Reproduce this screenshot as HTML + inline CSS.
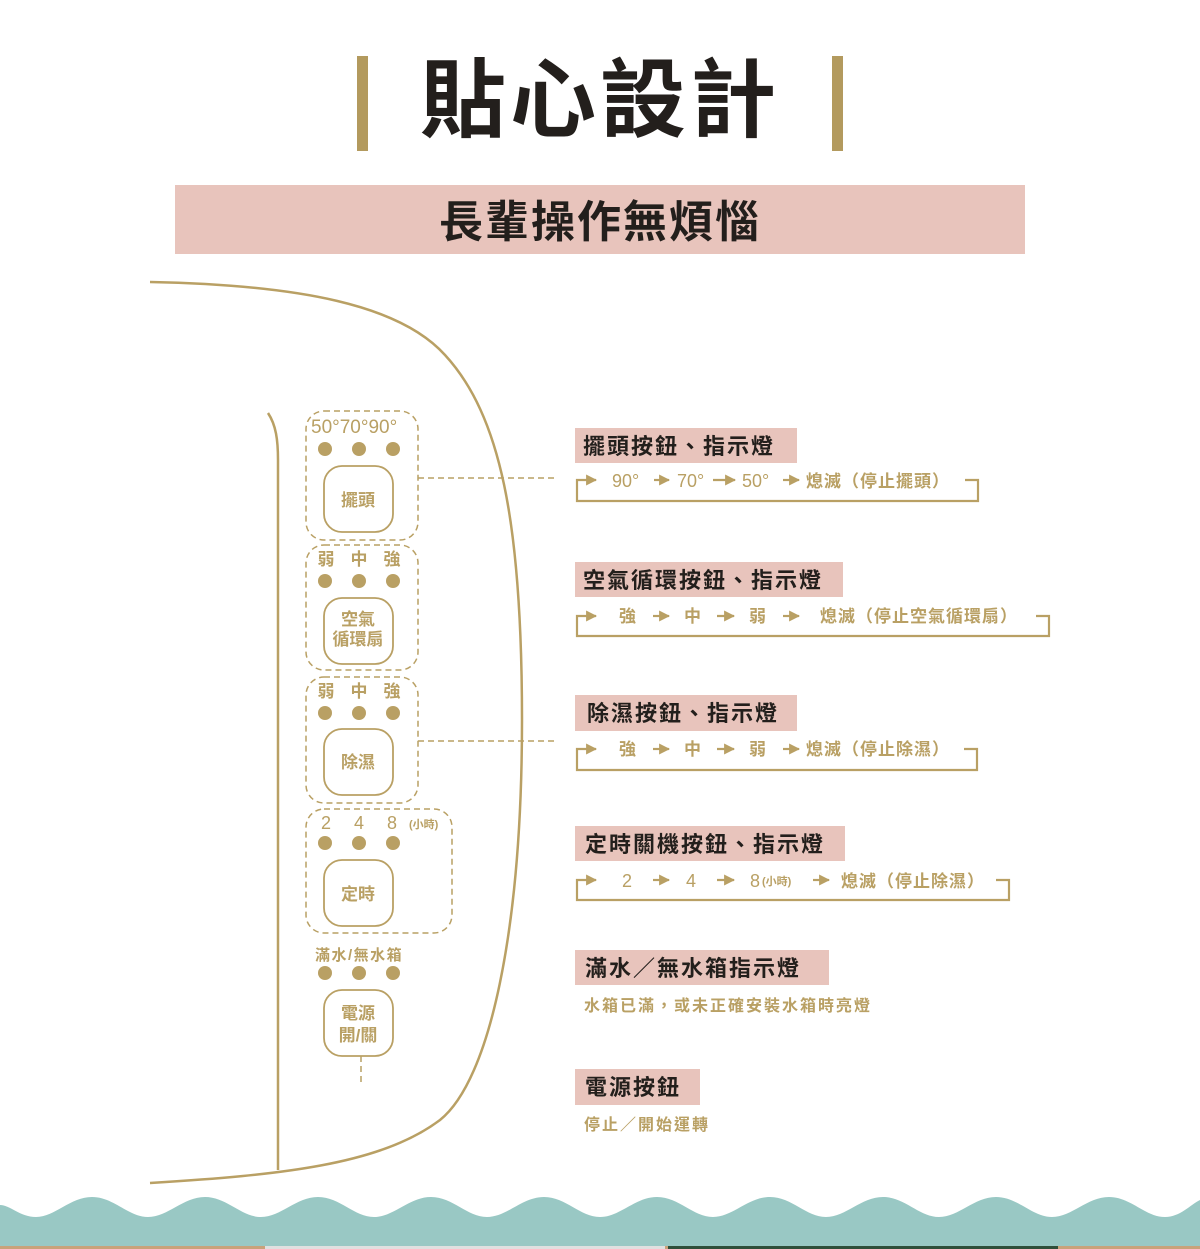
<!DOCTYPE html>
<html><head><meta charset="utf-8"><style>
html,body{margin:0;padding:0;background:#fff;}
svg{display:block;}
text{font-family:"Liberation Sans","Noto Sans CJK TC",sans-serif;}
.g{fill:#b9a064;}
.gb{fill:#b9a064;font-weight:bold;}
.h{fill:#231f1c;font-weight:bold;font-size:22px;letter-spacing:2px;}
</style></head><body>
<svg width="1200" height="1249" viewBox="0 0 1200 1249" xmlns="http://www.w3.org/2000/svg">
<defs><marker id="ar" viewBox="0 0 10 10" refX="9" refY="5" markerWidth="5" markerHeight="5" orient="auto"><path d="M0,0 L10,5 L0,10 z" fill="#b9a064"/></marker></defs>
<rect x="357" y="56" width="11" height="95" fill="#b39a5e"/>
<rect x="832" y="56" width="11" height="95" fill="#b39a5e"/>
<text x="600" y="130" text-anchor="middle" font-size="86" font-weight="bold" fill="#231f1c" letter-spacing="4">貼心設計</text>
<rect x="175" y="185" width="850" height="69" fill="#e8c4bc"/>
<text x="600" y="237" text-anchor="middle" font-size="44" font-weight="bold" fill="#231f1c" letter-spacing="2">長輩操作無煩惱</text>

<g fill="none" stroke="#b9a064">
<path d="M150,282 C300,285 400,305 445,355 C500,415 522,520 522,720 C522,930 490,1080 440,1120 C380,1165 280,1175 150,1183" stroke-width="2.5"/>
<path d="M268,413 C276,425 278,440 278,460 L278,1170" stroke-width="2.5"/>
<g stroke-width="1.5" stroke-dasharray="6,4">
<rect x="306" y="411" width="112" height="129" rx="18"/>
<rect x="306" y="545" width="112" height="125" rx="18"/>
<rect x="306" y="677" width="112" height="126" rx="18"/>
<rect x="306" y="809" width="146" height="124" rx="18"/>
<line x1="418" y1="478" x2="556" y2="478"/>
<line x1="418" y1="741" x2="556" y2="741"/>
<line x1="361" y1="1056" x2="361" y2="1086"/>
</g>
<g stroke-width="1.8">
<rect x="324" y="466" width="69" height="66" rx="18"/>
<rect x="324" y="598" width="69" height="66" rx="18"/>
<rect x="324" y="729" width="69" height="66" rx="18"/>
<rect x="324" y="860" width="69" height="66" rx="18"/>
<rect x="324" y="990" width="69" height="66" rx="18"/>
</g>
</g>
<g class="g">
<circle cx="325" cy="449" r="7"/><circle cx="359" cy="449" r="7"/><circle cx="393" cy="449" r="7"/>
<circle cx="325" cy="581" r="7"/><circle cx="359" cy="581" r="7"/><circle cx="393" cy="581" r="7"/>
<circle cx="325" cy="713" r="7"/><circle cx="359" cy="713" r="7"/><circle cx="393" cy="713" r="7"/>
<circle cx="325" cy="843" r="7"/><circle cx="359" cy="843" r="7"/><circle cx="393" cy="843" r="7"/>
<circle cx="325" cy="973" r="7"/><circle cx="359" cy="973" r="7"/><circle cx="393" cy="973" r="7"/>
</g>
<text x="311" y="433" font-size="19" class="g">50°70°90°</text>
<g class="gb" font-size="17" text-anchor="middle">
<text x="326" y="565">弱</text><text x="359" y="565">中</text><text x="392" y="565">強</text>
<text x="326" y="697">弱</text><text x="359" y="697">中</text><text x="392" y="697">強</text>
<text x="358" y="506">擺頭</text>
<text x="358" y="625">空氣</text><text x="358" y="645">循環扇</text>
<text x="358" y="768">除濕</text>
<text x="358" y="900">定時</text>
<text x="358" y="1019">電源</text><text x="358" y="1041">開/關</text>
</g>
<g class="g" font-size="18" text-anchor="middle"><text x="326" y="829">2</text><text x="359" y="829">4</text><text x="392" y="829">8</text></g>
<text x="409" y="828" font-size="11" class="gb">(小時)</text>
<text x="315" y="960" font-size="15" class="gb" letter-spacing="1.5">滿水/無水箱</text>

<g fill="#e8c4bc">
<rect x="575" y="428" width="222" height="35"/>
<rect x="575" y="562" width="268" height="35"/>
<rect x="575" y="695" width="222" height="36"/>
<rect x="575" y="826" width="270" height="35"/>
<rect x="575" y="950" width="254" height="35"/>
<rect x="575" y="1069" width="125" height="36"/>
</g>
<text x="583" y="454" class="h">擺頭按鈕、指示燈</text>
<text x="583" y="588" class="h">空氣循環按鈕、指示燈</text>
<text x="587" y="721" class="h">除濕按鈕、指示燈</text>
<text x="585" y="852" class="h">定時關機按鈕、指示燈</text>
<text x="585" y="976" class="h">滿水／無水箱指示燈</text>
<text x="585" y="1095" class="h">電源按鈕</text>

<g fill="none" stroke="#b9a064" stroke-width="2.2">
<path d="M965,480 H978 V501 H577 V480 H596" marker-end="url(#ar)"/>
<path d="M1036,616 H1049 V636 H577 V616 H596" marker-end="url(#ar)"/>
<path d="M964,749 H977 V770 H577 V749 H596" marker-end="url(#ar)"/>
<path d="M996,880 H1009 V900 H577 V880 H596" marker-end="url(#ar)"/>
<g marker-end="url(#ar)">
<line x1="654" y1="480" x2="669" y2="480"/><line x1="713" y1="480" x2="735" y2="480"/><line x1="783" y1="480" x2="799" y2="480"/>
<line x1="653" y1="616" x2="669" y2="616"/><line x1="717" y1="616" x2="734" y2="616"/><line x1="783" y1="616" x2="799" y2="616"/>
<line x1="653" y1="749" x2="669" y2="749"/><line x1="717" y1="749" x2="734" y2="749"/><line x1="783" y1="749" x2="799" y2="749"/>
<line x1="653" y1="880" x2="669" y2="880"/><line x1="717" y1="880" x2="734" y2="880"/><line x1="813" y1="880" x2="829" y2="880"/>
</g>
</g>
<g class="gb" font-size="17">
<text x="612" y="487" font-weight="normal" font-size="18">90°</text>
<text x="677" y="487" font-weight="normal" font-size="18">70°</text>
<text x="742" y="487" font-weight="normal" font-size="18">50°</text>
<text x="806" y="487" letter-spacing="1">熄滅（停止擺頭）</text>
<text x="619" y="622">強</text><text x="684" y="622">中</text><text x="749" y="622">弱</text>
<text x="820" y="622" letter-spacing="1">熄滅（停止空氣循環扇）</text>
<text x="619" y="755">強</text><text x="684" y="755">中</text><text x="749" y="755">弱</text>
<text x="806" y="755" letter-spacing="1">熄滅（停止除濕）</text>
<text x="622" y="887" font-weight="normal" font-size="18">2</text>
<text x="686" y="887" font-weight="normal" font-size="18">4</text>
<text x="750" y="887" font-weight="normal" font-size="18">8</text>
<text x="762" y="885" font-size="11">(小時)</text>
<text x="841" y="887" letter-spacing="1">熄滅（停止除濕）</text>
<text x="584" y="1011" font-size="16" letter-spacing="2">水箱已滿，或未正確安裝水箱時亮燈</text>
<text x="584" y="1130" font-size="16" letter-spacing="2">停止／開始運轉</text>
</g>

<path d="M0,1205 C10,1205 20,1217 36,1217 C55,1217 70,1197 92,1197 C114,1197 128,1217 148,1217 C168,1217 183,1197 205,1197 C227,1197 241,1217 261,1217 C281,1217 296,1197 318,1197 C340,1197 354,1217 374,1217 C394,1217 409,1197 431,1197 C453,1197 467,1217 487,1217 C507,1217 522,1197 544,1197 C566,1197 580,1217 600,1217 C620,1217 635,1197 657,1197 C679,1197 693,1217 713,1217 C733,1217 748,1197 770,1197 C792,1197 806,1217 826,1217 C846,1217 861,1197 883,1197 C905,1197 919,1217 939,1217 C959,1217 974,1197 996,1197 C1018,1197 1032,1217 1052,1217 C1072,1217 1087,1197 1109,1197 C1131,1197 1145,1217 1165,1217 C1180,1217 1190,1205 1200,1200 L1200,1249 L0,1249 Z" fill="#99c8c4"/>
<rect x="0" y="1246" width="1200" height="3" fill="#c9a27a"/>
<rect x="265" y="1246" width="400" height="3" fill="#e0e0e0"/>
<rect x="668" y="1246" width="390" height="3" fill="#2f4f3a"/>
</svg>
</body></html>
